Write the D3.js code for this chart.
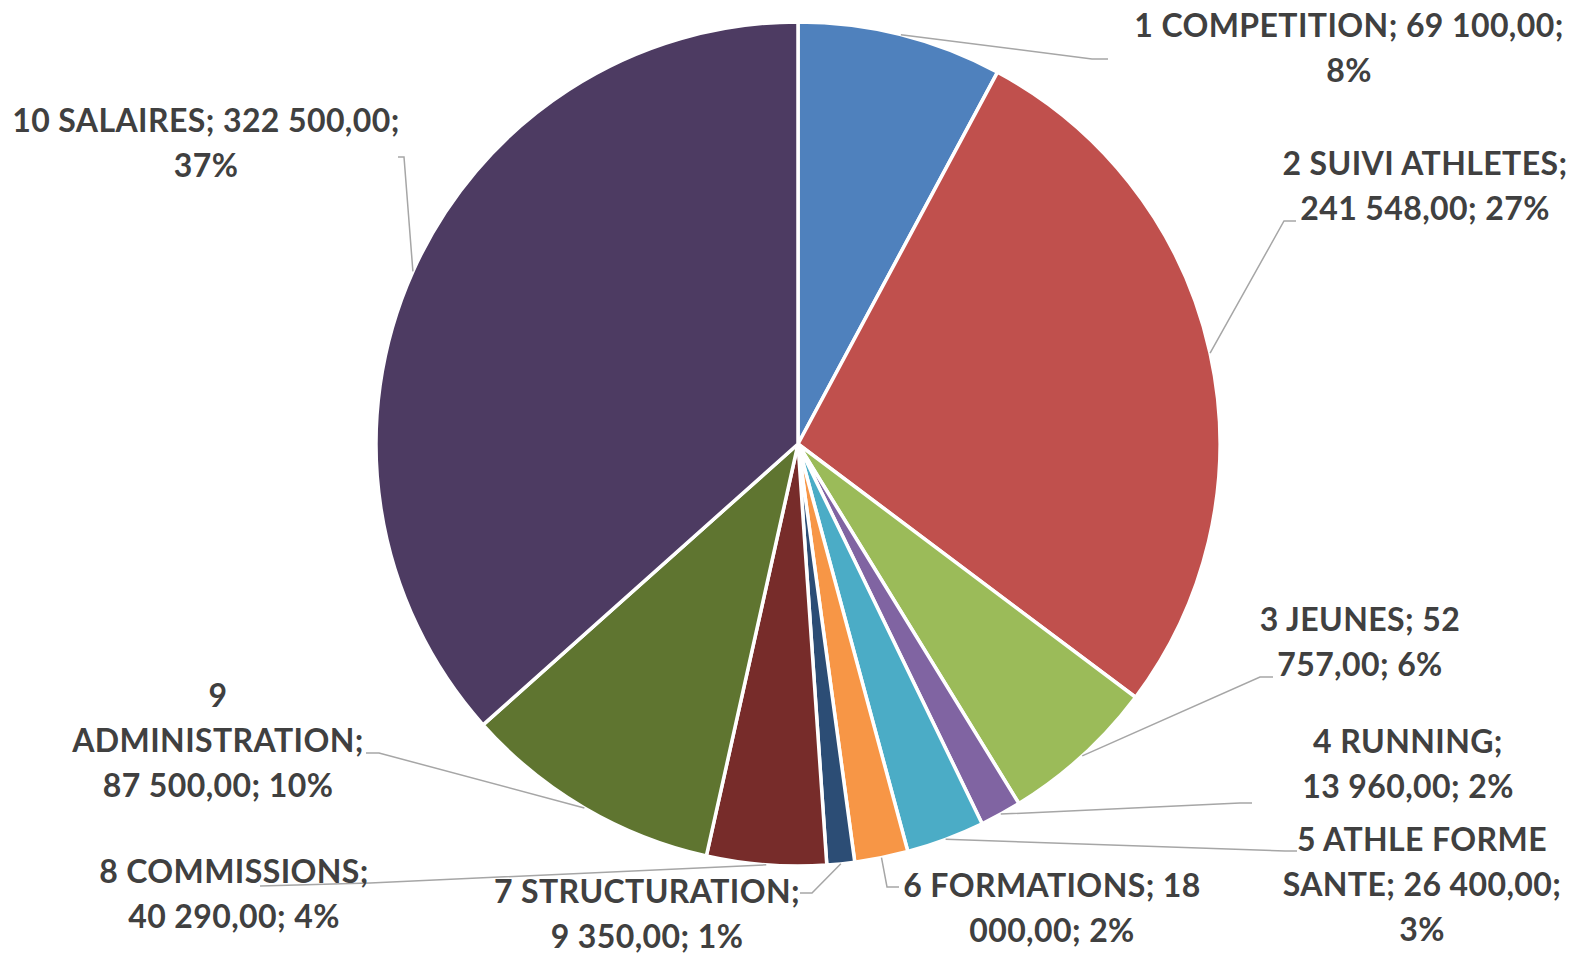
<!DOCTYPE html>
<html>
<head>
<meta charset="utf-8">
<script src="https://cdn.jsdelivr.net/npm/d3@7"></script>
<style>
  html, body { margin: 0; padding: 0; background: #fff; }
  svg { display: block; }
  .lbl { font-family: Lato, "Open Sans", sans-serif; font-weight: bold; fill: #404040; letter-spacing: 0.4px; }
</style>
</head>
<body>
<svg id="pie"></svg>
<script>
// chart data
var categories = ["1 COMPETITION", "2 SUIVI ATHLETES", "3 JEUNES", "4 RUNNING",
                  "5 ATHLE FORME SANTE", "6 FORMATIONS", "7 STRUCTURATION",
                  "8 COMMISSIONS", "9 ADMINISTRATION", "10 SALAIRES"];
var values = [69100, 241548, 52757, 13960, 26400, 18000, 9350, 40290, 87500, 322500];
var pctLabels = ["8%", "27%", "6%", "2%", "3%", "2%", "1%", "4%", "10%", "37%"];
var colors = ["#4F81BD", "#C0504D", "#9BBB59", "#8064A2", "#4BACC6",
              "#F79646", "#2C4D75", "#772C2A", "#5F7530", "#4D3B62"];

// where Excel put each label: centre x, first baseline, wrap width, leader bend + end
var labelPos = [
    {x: 1349, y: 37,  w: 440, bend: [1092, 59],  end: [1108, 59]},
    {x: 1425, y: 175, w: 300, bend: [1284, 221], end: [1296, 221]},
    {x: 1360, y: 631, w: 210, bend: [1260, 677], end: [1273, 677]},
    {x: 1408, y: 753, w: 222, bend: [1240, 803], end: [1252, 803]},
    {x: 1422, y: 851, w: 290, bend: [1285, 851], end: [1297, 851]},
    {x: 1052, y: 897, w: 315, bend: [887, 887],  end: [899, 887]},
    {x: 647,  y: 903, w: 312, bend: [812, 893],  end: [800, 893]},
    {x: 234,  y: 883, w: 280, bend: [370, 883],  end: [260, 886]},
    {x: 218,  y: 707, w: 295, bend: [379, 753],  end: [366, 753]},
    {x: 206,  y: 132, w: 400, bend: [404, 157],  end: [398, 157]}
];

var width = 1583, height = 954;
var cx = 798, cy = 444, radius = 422;
var lineHeight = 45;

var fr = d3.formatLocale({decimal: ",", thousands: "\u00a0", grouping: [3], currency: ["", ""]});
var fmt = fr.format(",.2f");

var svg = d3.select("#pie")
            .attr("width", width)
            .attr("height", height);

var data = categories.map(function(c, i) {
    return {name: c, value: values[i], pct: pctLabels[i], color: colors[i], pos: labelPos[i]};
});

// keep the sheet order, start at 12 o'clock, clockwise
var arcsGenerator = d3.pie()
                      .sort(null)
                      .value(function(d) { return d.value; });
var arcs = arcsGenerator(data);

var path = d3.arc()
             .outerRadius(radius)
             .innerRadius(0);

var chart = svg.append("g")
               .attr("transform", "translate(" + cx + "," + cy + ")");

chart.selectAll(".arc")
     .data(arcs)
     .enter()
     .append("path")
       .classed("arc", true)
       .attr("fill", function(d) { return d.data.color; })
       .attr("stroke", "#fff")
       .attr("stroke-width", 3.5)
       .attr("stroke-linejoin", "round")
       .attr("d", path);

// leader lines from the middle of each slice's rim
svg.selectAll(".leader")
   .data(arcs)
   .enter()
   .append("path")
     .classed("leader", true)
     .attr("fill", "none")
     .attr("stroke", "#a6a6a6")
     .attr("stroke-width", 1.5)
     .attr("d", function(d) {
         var a = (d.startAngle + d.endAngle) / 2;
         var p0 = [cx + radius * Math.sin(a), cy - radius * Math.cos(a)];
         return d3.line()([p0, d.data.pos.bend, d.data.pos.end]);
     });

// labels, word wrapped like Excel does
var labels = svg.selectAll(".lbl")
                .data(arcs)
                .enter()
                .append("text")
                  .classed("lbl", true)
                  .attr("font-size", 32)
                  .attr("text-anchor", "middle");

labels.each(function(d) {
    var t = d3.select(this);
    var words = (d.data.name + "; " + fmt(d.data.value).replace(/\u00a0/g, " ") + "; " + d.data.pct).split(" ");
    var lines = [], cur = [];
    var probe = t.append("tspan");
    words.forEach(function(w) {
        var test = cur.concat([w]).join(" ");
        probe.text(test);
        if (cur.length && probe.node().getComputedTextLength() > d.data.pos.w) {
            lines.push(cur.join(" "));
            cur = [w];
        } else {
            cur.push(w);
        }
    });
    lines.push(cur.join(" "));
    probe.remove();
    lines.forEach(function(l, i) {
        t.append("tspan")
         .attr("x", d.data.pos.x)
         .attr("y", d.data.pos.y + i * lineHeight)
         .text(l);
    });
});
</script>
</body>
</html>
